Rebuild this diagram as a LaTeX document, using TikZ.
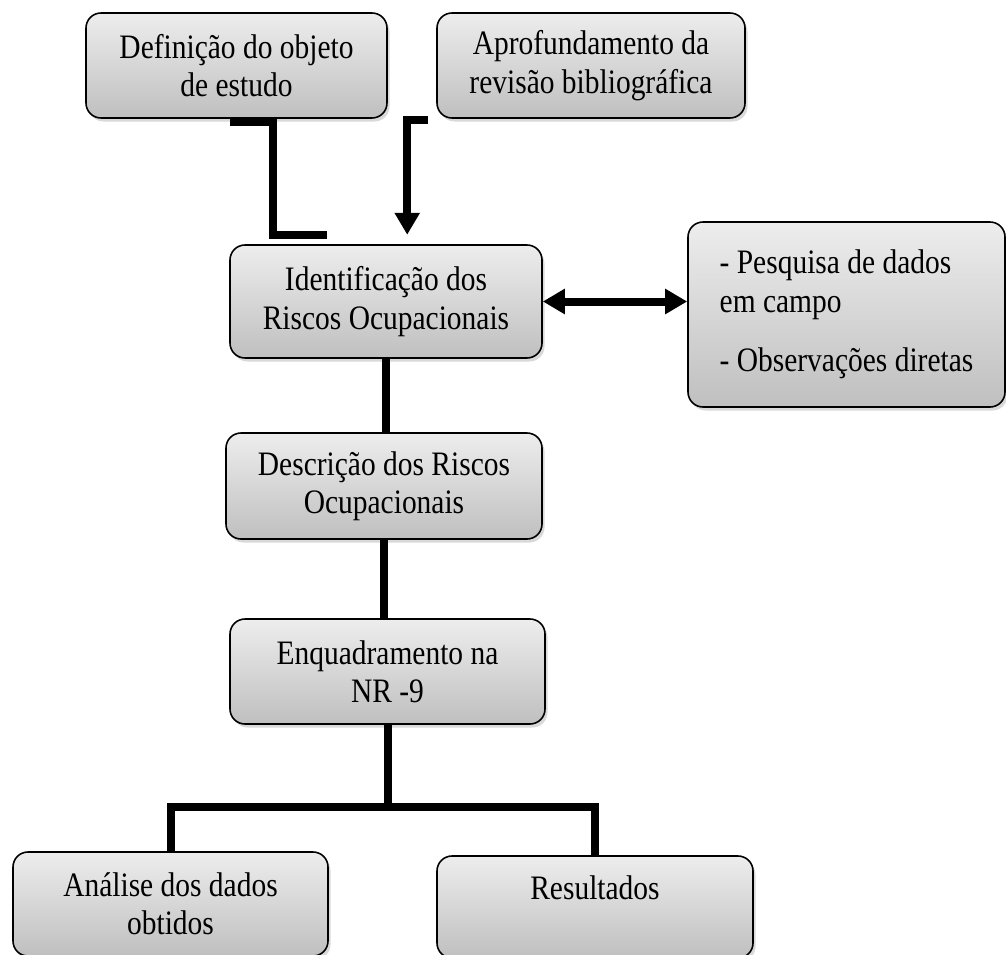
\documentclass[tikz,border=0pt]{standalone}
\usepackage{fontspec}
\setmainfont[FakeStretch=0.86]{Liberation Serif}
\usetikzlibrary{arrows.meta,shadows}

\tikzset{
  caixa/.style={draw=black, line width=0.9pt, rounded corners=0.3cm,
    top color=black!7, bottom color=black!25, align=center, inner sep=0pt,
    drop shadow={opacity=0.3, shadow xshift=0.05cm, shadow yshift=-0.07cm},
    font=\fontsize{19.5pt}{21.8pt}\selectfont},
  ligacao/.style={line width=0.16cm, line join=miter},
  seta/.tip={Triangle[length=0.44cm,width=0.48cm]}
}

\begin{document}
\begin{tikzpicture}
  \useasboundingbox (0,0) rectangle (20.12,-19.08);

  % caixas (medidas em centímetros)
  \node[caixa, minimum width=6.02cm, minimum height=2.1cm] (defin) at (4.73,-1.31) {Definição do objeto\\de estudo};
  \node[caixa, minimum width=6.16cm, minimum height=2.1cm] (aprof) at (11.82,-1.31) {Aprofundamento da\\revisão bibliográfica};
  \node[caixa, minimum width=6.24cm, minimum height=2.26cm] (ident) at (7.72,-6.03) {Identificação dos\\Riscos Ocupacionais};
  \node[caixa, minimum width=6.34cm, minimum height=3.7cm, align=left] (pesq) at (16.93,-6.29) {- Pesquisa de dados\\em campo\\[0.42cm]- Observações diretas};
  \node[caixa, minimum width=6.32cm, minimum height=2.12cm] (descr) at (7.68,-9.72) {Descrição dos Riscos\\Ocupacionais};
  \node[caixa, minimum width=6.3cm, minimum height=2.1cm] (enq) at (7.75,-13.43) {Enquadramento na\\NR -9};
  \node[caixa, minimum width=6.3cm, minimum height=2.08cm] (anal) at (3.41,-18.08) {Análise dos dados\\obtidos};
  \node[caixa, minimum width=6.32cm, minimum height=2.04cm] (result) at (11.9,-18.14) {Resultados\\\mbox{}};

  % ligações
  \draw[ligacao] ([shift={(-0.13,-0.06)}]defin.south) -- ++(0.86,0) -- ++(0,-2.26) -- ++(1.08,0);
  \draw[ligacao, -seta] ([shift={(-0.16,-0.02)}]aprof.south west) -- ++(-0.42,0) -- ++(0,-2.3);
  \draw[ligacao, seta-seta] (ident.east) -- (ident.east -| pesq.west);
  \draw[ligacao] (ident.south) -- (ident.south |- descr.north);
  \draw[ligacao] (descr.south) -- (descr.south |- enq.north);

  \coordinate (garfo) at (7.75,-16.14);
  \draw[ligacao] (enq.south) -- (garfo);
  \draw[ligacao] (anal.north) |- (garfo) -| (result.north);
\end{tikzpicture}
\end{document}
